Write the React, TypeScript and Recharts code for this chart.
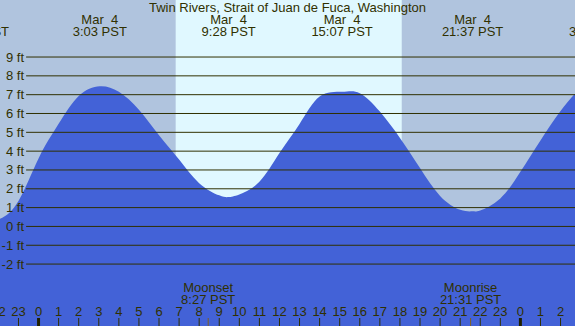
import React from "react";
import {
  ComposedChart,
  Area,
  XAxis,
  YAxis,
  ReferenceArea,
  ReferenceLine,
} from "recharts";

// tide heights in feet, hours from midnight Mar 4 (PST)
const tideHours = [
  -3.5, -3.0, -2, -1, 0, 1, 2, 3.05, 4, 5, 6, 7, 8, 9, 9.47, 10, 11, 12, 13, 14,
  15.12, 16, 17, 18, 19, 20, 21, 21.62, 22, 23, 24, 25, 26, 27, 27.77,
];
const tideFeet = [
  0.34, 0.3, 0.38, 1.35, 3.61, 5.45, 6.93, 7.45, 7.15, 6.2, 4.85, 3.55, 2.3,
  1.65, 1.56, 1.7, 2.37, 3.9, 5.44, 6.9, 7.15, 7.08, 6.1, 4.7, 3.1, 1.62, 0.88,
  0.8, 0.85, 1.49, 2.9, 4.57, 6.13, 7.3, 7.5,
];

// high / low labels along the top
const extremeHours = [-3.0, 3.05, 9.47, 15.12, 21.62, 27.77];
const extremeDates = ["Mar  3", "Mar  4", "Mar  4", "Mar  4", "Mar  4", "Mar  5"];
const extremeTimes = ["21:00 PST", "3:03 PST", "9:28 PST", "15:07 PST", "21:37 PST", "3:46 PST"];

// moon events along the bottom
const moonHours = [8.45, 21.52];
const moonNames = ["Moonset", "Moonrise"];
const moonTimes = ["8:27 PST", "21:31 PST"];

const sunrise = 6.83;
const sunset = 18.09;

const hourTicks = Array.from({ length: 29 }, (_, i) => i - 2);
const feetTicks = [-2, -1, 0, 1, 2, 3, 4, 5, 6, 7, 8, 9];

const data = tideHours.map((h, i) => ({ h, ft: tideFeet[i] }));

const W = 575;
const H = 326;
const X_DOMAIN: [number, number] = [-1.92, 26.72];
const Y_DOMAIN: [number, number] = [-5.29, 12.03];
const INK = "#303000";
const FONT = "'Liberation Sans', Arial, sans-serif";
const FS = 13;

const BottomTick = (props: any) => {
  const { x, payload } = props;
  const v = payload.value;
  const m = moonHours.indexOf(v);
  if (m >= 0) {
    return (
      <g>
        <line x1={x} x2={x} y1={H - 8} y2={H} stroke="#806020" strokeWidth={1} />
        <text x={x} y={H - 34} textAnchor="middle" fontSize={FS} fontFamily={FONT} fill={INK}>
          {moonNames[m]}
        </text>
        <text x={x} y={H - 22} textAnchor="middle" fontSize={FS} fontFamily={FONT} fill={INK}>
          {moonTimes[m]}
        </text>
      </g>
    );
  }
  const label = ((v % 24) + 24) % 24;
  const midnight = label === 0;
  return (
    <g>
      <line
        x1={x}
        x2={x}
        y1={H - 8}
        y2={H}
        stroke={midnight ? "#202000" : INK}
        strokeWidth={midnight ? 3 : 1}
      />
      <text x={x} y={H - 10} textAnchor="middle" fontSize={FS} fontFamily={FONT} fill={INK}>
        {label}
      </text>
    </g>
  );
};

const TopTick = (props: any) => {
  const { x, payload } = props;
  const i = extremeHours.indexOf(payload.value);
  if (i < 0) return null;
  return (
    <g>
      <text x={x} y={24} textAnchor="middle" fontSize={FS} fontFamily={FONT} fill={INK} style={{ whiteSpace: "pre" }}>
        {extremeDates[i]}
      </text>
      <text x={x} y={36} textAnchor="middle" fontSize={FS} fontFamily={FONT} fill={INK}>
        {extremeTimes[i]}
      </text>
    </g>
  );
};

const FeetTick = (props: any) => {
  const { y, payload } = props;
  return (
    <text x={24} y={y} dy={4.5} textAnchor="end" fontSize={FS} fontFamily={FONT} fill={INK}>
      {`${payload.value} ft`}
    </text>
  );
};

export default function App() {
  return (
    <div style={{ position: "absolute", left: 0, top: 0, width: W, height: H, background: "#b0c4de" }}>
      <ComposedChart width={W} height={H} data={data} margin={{ top: 0, right: 0, bottom: 0, left: 0 }}>
        <ReferenceArea x1={sunrise} x2={sunset} fill="#e0f8ff" fillOpacity={1} stroke="none" ifOverflow="hidden" />
        <Area
          type="natural"
          dataKey="ft"
          stroke="none"
          fill="#4362d7"
          fillOpacity={1}
          baseValue="dataMin"
          isAnimationActive={false}
        />
        {feetTicks.map((v) => (
          <ReferenceLine
            key={v}
            segment={[
              { x: -0.62, y: v },
              { x: X_DOMAIN[1], y: v },
            ]}
            stroke={INK}
            strokeWidth={1}
            ifOverflow="visible"
          />
        ))}
        <XAxis
          dataKey="h"
          type="number"
          domain={X_DOMAIN}
          allowDataOverflow
          ticks={[...hourTicks, ...moonHours]}
          interval={0}
          height={1}
          mirror
          axisLine={false}
          tickLine={false}
          tick={<BottomTick />}
        />
        <XAxis
          xAxisId="top"
          orientation="top"
          dataKey="h"
          type="number"
          domain={X_DOMAIN}
          allowDataOverflow
          ticks={extremeHours}
          interval={0}
          height={1}
          mirror
          axisLine={false}
          tickLine={false}
          tick={<TopTick />}
        />
        <YAxis
          type="number"
          domain={Y_DOMAIN}
          allowDataOverflow
          ticks={feetTicks}
          interval={0}
          width={1}
          mirror
          axisLine={false}
          tickLine={false}
          tick={<FeetTick />}
        />
      </ComposedChart>
      <div
        style={{
          position: "absolute",
          left: 0,
          top: 0,
          width: W,
          textAlign: "center",
          fontFamily: FONT,
          fontSize: FS,
          lineHeight: "15px",
          color: INK,
        }}
      >
        Twin Rivers, Strait of Juan de Fuca, Washington
      </div>
    </div>
  );
}
